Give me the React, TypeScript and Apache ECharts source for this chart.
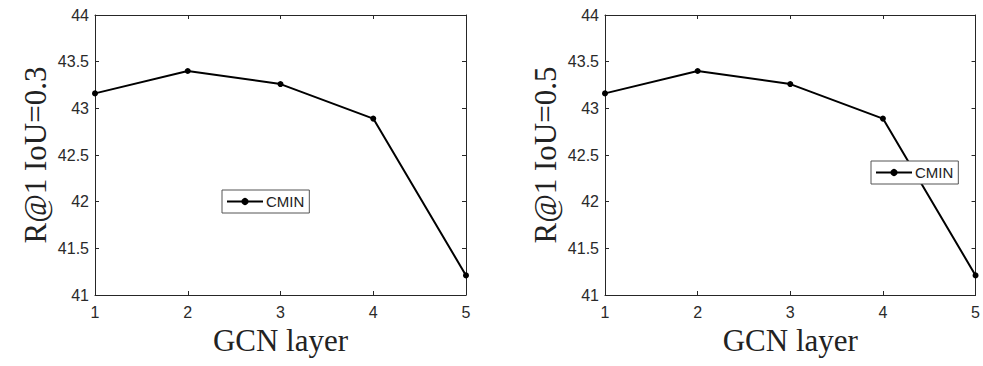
import React, { useEffect, useRef } from "react";
import * as echarts from "echarts";

const layers = [1, 2, 3, 4, 5];
const recallIoU03 = [43.16, 43.4, 43.26, 42.89, 41.21];
const recallIoU05 = [43.16, 43.4, 43.26, 42.89, 41.21];
const seriesName = "CMIN";
const xTitle = "GCN layer";
const yTitles = ["R@1 IoU=0.3", "R@1 IoU=0.5"];

const AX = "#262626";
const LABEL = "#2a2a2a";

function makeAxes(grid: number, yTitle: string) {
  const xCommon = {
    gridIndex: grid,
    type: "value",
    min: 1,
    max: 5,
    interval: 1,
    axisLine: { show: true, lineStyle: { color: AX, width: 1 } },
    axisTick: { show: true, inside: true, length: 4, lineStyle: { color: AX } },
    splitLine: { show: false },
  };
  const yCommon = {
    gridIndex: grid,
    type: "value",
    min: 41,
    max: 44,
    interval: 0.5,
    axisLine: { show: true, lineStyle: { color: AX, width: 1 } },
    axisTick: { show: true, inside: true, length: 4, lineStyle: { color: AX } },
    splitLine: { show: false },
  };
  const xAxes = [
    {
      ...xCommon,
      position: "bottom",
      axisLabel: {
        fontFamily: "Liberation Sans",
        fontSize: 16,
        color: LABEL,
        margin: 9,
      },
      name: xTitle,
      nameLocation: "middle",
      nameGap: 29,
      nameTextStyle: {
        fontFamily: "Liberation Serif",
        fontSize: 31,
        color: "#222",
      },
    },
    { ...xCommon, position: "top", axisLabel: { show: false } },
  ];
  const yAxes = [
    {
      ...yCommon,
      position: "left",
      axisLabel: {
        fontFamily: "Liberation Sans",
        fontSize: 16,
        color: LABEL,
        margin: 6,
      },
      name: yTitle,
      nameLocation: "middle",
      nameGap: 44,
      nameTextStyle: {
        fontFamily: "Liberation Serif",
        fontSize: 31,
        color: "#222",
      },
    },
    { ...yCommon, position: "right", axisLabel: { show: false } },
  ];
  return { xAxes, yAxes };
}

export default function App() {
  const ref = useRef<HTMLDivElement>(null);
  useEffect(() => {
    if (!ref.current) return;
    const chart = echarts.init(ref.current, null, { renderer: "svg" });
    const a0 = makeAxes(0, yTitles[0]);
    const a1 = makeAxes(1, yTitles[1]);
    const lineSeries = (xi: number, yi: number, vals: number[]) => ({
      type: "line",
      name: seriesName,
      xAxisIndex: xi,
      yAxisIndex: yi,
      data: layers.map((l, i) => [l, vals[i]]),
      symbol: "circle",
      symbolSize: 6,
      showSymbol: true,
      clip: false,
      lineStyle: { color: "#000", width: 2 },
      itemStyle: { color: "#000" },
      z: 2,
    });
    const legendCommon = {
      data: [seriesName],
      orient: "horizontal",
      itemWidth: 36,
      itemHeight: 9,
      itemGap: 4,
      padding: [4, 5, 4, 4],
      borderColor: "#555",
      borderWidth: 1,
      backgroundColor: "#fff",
      selectedMode: false,
      textStyle: {
        fontFamily: "Liberation Sans",
        fontSize: 15,
        color: "#222",
        padding: [0, 0, 0, -2],
      },
      z: 10,
    };
    chart.setOption({
      animation: false,
      backgroundColor: "#fff",
      grid: [
        { left: 95, right: 517, top: 15, bottom: 71 },
        { left: 605, right: 6, top: 15, bottom: 71 },
      ],
      xAxis: [...a0.xAxes, ...a1.xAxes],
      yAxis: [...a0.yAxes, ...a1.yAxes],
      legend: [
        { ...legendCommon, left: 222, top: 190 },
        { ...legendCommon, left: 871, top: 161 },
      ],
      series: [lineSeries(0, 0, recallIoU03), lineSeries(2, 2, recallIoU05)],
    });
    return () => chart.dispose();
  }, []);
  return (
    <div
      ref={ref}
      style={{ position: "fixed", left: 0, top: 0, width: 983, height: 366 }}
    />
  );
}
